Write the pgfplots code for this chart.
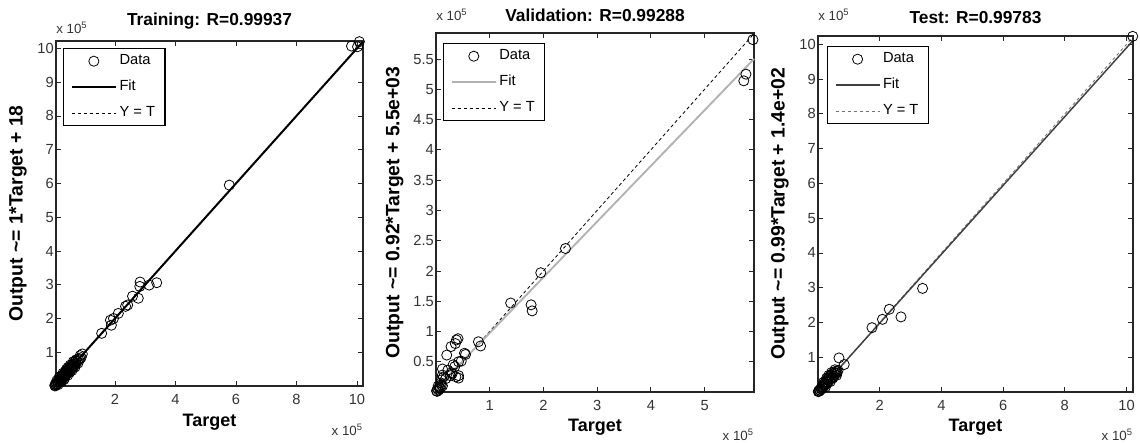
\documentclass[border=0pt]{standalone}
\usepackage{fontspec}
\setmainfont{Liberation Sans}
\usepackage{pgfplots}
\pgfplotsset{compat=1.18}

\pgfplotstableread{
x y
0.01 0.02
0.02 0.00
0.03 0.05
0.05 0.03
0.06 0.08
0.08 0.06
0.10 0.12
0.12 0.09
0.14 0.16
0.16 0.13
0.18 0.20
0.20 0.17
0.22 0.25
0.24 0.21
0.26 0.28
0.28 0.24
0.30 0.33
0.32 0.28
0.34 0.37
0.36 0.32
0.38 0.41
0.40 0.36
0.42 0.45
0.44 0.40
0.46 0.50
0.48 0.44
0.50 0.54
0.52 0.47
0.54 0.57
0.56 0.52
0.58 0.60
0.60 0.55
0.62 0.64
0.64 0.58
0.66 0.62
0.70 0.66
0.75 0.72
0.80 0.78
0.85 0.90
0.88 0.84
0.92 0.95
0.35 0.30
0.25 0.30
0.45 0.55
0.55 0.50
0.65 0.70
0.15 0.25
0.22 0.12
0.28 0.38
0.33 0.22
0.40 0.50
0.44 0.32
0.52 0.62
0.58 0.46
0.62 0.72
0.68 0.56
0.72 0.78
0.78 0.68
0.84 0.80
0.08 0.16
0.12 0.04
0.50 0.40
0.36 0.44
0.70 0.74
0.30 0.18
0.18 0.28
1.56 1.56
1.85 1.95
1.88 1.80
1.95 2.00
2.11 2.15
2.35 2.36
2.42 2.40
2.58 2.66
2.77 2.60
2.83 3.08
2.82 2.95
3.13 2.99
3.38 3.06
5.78 5.95
9.82 10.07
10.02 10.05
10.08 10.20
}\trainData

\pgfplotstableread{
x y
0.01 0.02
0.02 0.01
0.03 0.05
0.05 0.03
0.06 0.08
0.08 0.06
0.10 0.12
0.12 0.10
0.04 0.10
0.09 0.15
0.10 0.20
0.12 0.28
0.14 0.25
0.12 0.38
0.18 0.22
0.20 0.61
0.22 0.36
0.27 0.27
0.28 0.75
0.29 0.32
0.30 0.30
0.32 0.45
0.35 0.42
0.36 0.80
0.38 0.86
0.41 0.88
0.37 0.25
0.42 0.23
0.42 0.27
0.42 0.50
0.47 0.51
0.53 0.64
0.55 0.62
0.79 0.83
0.83 0.76
1.39 1.47
1.77 1.44
1.79 1.34
1.95 1.97
2.41 2.37
5.73 5.14
5.77 5.25
5.90 5.82
}\valData

\pgfplotstableread{
x y
0.01 0.01
0.02 0.03
0.04 0.02
0.05 0.06
0.07 0.05
0.09 0.10
0.11 0.08
0.13 0.15
0.15 0.12
0.17 0.20
0.19 0.16
0.21 0.25
0.23 0.20
0.25 0.30
0.27 0.24
0.30 0.36
0.32 0.28
0.34 0.40
0.36 0.33
0.38 0.45
0.40 0.38
0.42 0.48
0.45 0.42
0.47 0.52
0.50 0.46
0.52 0.55
0.55 0.50
0.58 0.60
0.60 0.54
0.62 0.58
0.65 0.62
0.28 0.40
0.35 0.48
0.40 0.30
0.48 0.40
0.55 0.64
0.60 0.48
0.44 0.56
0.18 0.28
0.24 0.14
0.68 0.98
0.85 0.79
1.75 1.85
2.09 2.09
2.31 2.38
2.69 2.16
3.39 2.98
10.20 10.23
}\testData

\pgfplotsset{
  reg/.style={
    scale only axis, clip=false,
    axis line style={black!85, line width=0.8pt},
    tick align=inside, major tick length=3.5pt,
    every tick/.style={black!85, line width=0.6pt},
    ticklabel style={font=\fontsize{11}{12}\selectfont, text=black!80},
    /pgf/number format/assume math mode=true,
    scaled ticks=false,
    xticklabel style={yshift=-3pt},
    yticklabel style={inner xsep=1.5pt},
    title style={font=\bfseries\fontsize{13}{15}\selectfont, at={(0.5,1)}, anchor=center},
    xlabel style={font=\bfseries\fontsize{13.5}{15}\selectfont, at={(0.5,0)}, anchor=center},
    ylabel style={font=\bfseries\fontsize{14.5}{16}\selectfont, at={(0,0.5)}, anchor=center},
    legend cell align=left,
    legend style={draw=black, line width=0.8pt, fill=white,
      font=\fontsize{11}{12}\selectfont, anchor=north west,
      inner xsep=5.5pt, inner ysep=2.5pt, row sep=5.5pt,
      nodes={inner sep=2pt, text height=0.75em, text depth=0.25em}},
  },
  mk/.style={only marks, mark=o, mark size=3.8pt, mark options={black, line width=0.6pt}},
  linelegend/.style={legend image code/.code={\draw[##1] (0pt,0pt) -- (33pt,0pt);}},
  marklegend/.style={legend image code/.code={\draw[##1] plot coordinates {(16.5pt,0pt)};}},
}

\newcommand{\xtenfive}{x 10\textsuperscript{\fontsize{7}{8}\selectfont 5}}

\begin{document}
\begin{tikzpicture}
\path[use as bounding box] (0,0) rectangle (855pt,332.25pt);

% ---------- Training ----------
\begin{axis}[reg,
  at={(42pt,42.75pt)}, anchor=south west,
  width=230.25pt, height=258.75pt,
  xmin=0.05, xmax=10.2, ymin=0, ymax=10.22,
  xtick={2,4,6,8,10}, ytick={1,2,3,4,5,6,7,8,9,10},
  title={Training: R=0.99937}, title style={yshift=9pt},
  xlabel={Target}, xlabel style={yshift=-27pt},
  ylabel={Output \textasciitilde= 1*Target + 18}, ylabel style={yshift=28.5pt},
  legend style={at={(rel axis cs:0,1)}, xshift=5.25pt, yshift=-5.25pt},
]
\addplot[black, line width=0.6pt, dash pattern=on 2.5pt off 2pt, forget plot] coordinates {(0.05,0.05) (10.2,10.2)};
\addplot[black, line width=1.5pt, forget plot] coordinates {(0.05,0.0502) (10.2,10.2002)};
\addplot[mk, forget plot] table[x=x,y=y] {\trainData};
\addlegendimage{marklegend, mk}
\addlegendentry{Data}
\addlegendimage{linelegend, black, line width=1.5pt}
\addlegendentry{Fit}
\addlegendimage{linelegend, black, line width=0.6pt, dash pattern=on 2.5pt off 2pt}
\addlegendentry{Y = T}
\node[anchor=west, inner sep=0, font=\fontsize{10}{12}\selectfont, text=black!80] at (rel axis cs:0,1) [yshift=9.75pt] {\xtenfive};
\node[anchor=east, inner sep=0, font=\fontsize{10}{12}\selectfont, text=black!80] at (rel axis cs:1,0) [yshift=-33pt] {\xtenfive};
\end{axis}

% ---------- Validation ----------
\begin{axis}[reg,
  at={(327pt,38.25pt)}, anchor=south west,
  width=238.5pt, height=269.25pt,
  xmin=0, xmax=5.92, ymin=0, ymax=5.93,
  xtick={1,2,3,4,5}, ytick={0.5,1,1.5,2,2.5,3,3.5,4,4.5,5,5.5},
  title={Validation: R=0.99288}, title style={yshift=7pt},
  xlabel={Target}, xlabel style={yshift=-26.25pt},
  ylabel={Output \textasciitilde= 0.92*Target + 5.5e+03}, ylabel style={yshift=31pt},
  legend style={at={(rel axis cs:0,1)}, xshift=5.25pt, yshift=-7.5pt},
]
\addplot[black, line width=0.6pt, dash pattern=on 2.5pt off 2pt, forget plot] coordinates {(0,0) (5.92,5.92)};
\addplot[black!30, line width=1.4pt, forget plot] coordinates {(0,0.055) (5.92,5.5015)};
\addplot[mk, forget plot] table[x=x,y=y] {\valData};
\addlegendimage{marklegend, mk}
\addlegendentry{Data}
\addlegendimage{linelegend, black!30, line width=1.4pt}
\addlegendentry{Fit}
\addlegendimage{linelegend, black, line width=0.6pt, dash pattern=on 2.5pt off 2pt}
\addlegendentry{Y = T}
\node[anchor=west, inner sep=0, font=\fontsize{10}{12}\selectfont, text=black!80] at (rel axis cs:0,1) [yshift=13.5pt] {\xtenfive};
\node[anchor=east, inner sep=0, font=\fontsize{10}{12}\selectfont, text=black!80] at (rel axis cs:1,0) [yshift=-32.25pt] {\xtenfive};
\end{axis}

% ---------- Test ----------
\begin{axis}[reg,
  at={(613.5pt,38.25pt)}, anchor=south west,
  width=236.25pt, height=267pt,
  xmin=0, xmax=10.21, ymin=0, ymax=10.24,
  xtick={2,4,6,8,10}, ytick={1,2,3,4,5,6,7,8,9,10},
  title={Test: R=0.99783}, title style={yshift=7.5pt},
  xlabel={Target}, xlabel style={yshift=-26.25pt},
  ylabel={Output \textasciitilde= 0.99*Target + 1.4e+02}, ylabel style={yshift=28.5pt},
  legend style={at={(rel axis cs:0,1)}, xshift=6.75pt, yshift=-7.5pt},
]
\addplot[black!55, line width=0.6pt, dash pattern=on 2.5pt off 2pt, forget plot] coordinates {(0,0) (10.21,10.21)};
\addplot[black!75, line width=1.1pt, forget plot] coordinates {(0,0.0014) (10.21,10.109)};
\addplot[mk, forget plot] table[x=x,y=y] {\testData};
\addlegendimage{marklegend, mk}
\addlegendentry{Data}
\addlegendimage{linelegend, black!75, line width=1.1pt}
\addlegendentry{Fit}
\addlegendimage{linelegend, black!55, line width=0.6pt, dash pattern=on 2.5pt off 2pt}
\addlegendentry{Y = T}
\node[anchor=west, inner sep=0, font=\fontsize{10}{12}\selectfont, text=black!80] at (rel axis cs:0,1) [yshift=15.75pt] {\xtenfive};
\node[anchor=east, inner sep=0, font=\fontsize{10}{12}\selectfont, text=black!80] at (rel axis cs:1,0) [yshift=-32.25pt] {\xtenfive};
\end{axis}
\end{tikzpicture}
\end{document}
